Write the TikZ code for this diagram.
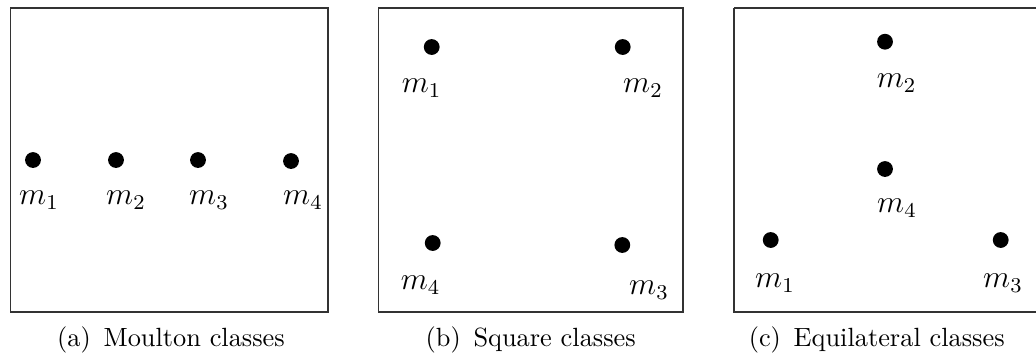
\documentclass[tikz,border=0pt]{standalone}
\usepackage{amsmath}
\usepackage{tikz}
\usetikzlibrary{positioning}

\begin{document}
\begin{tikzpicture}[
    x=0.01333cm, y=-0.01333cm,
    every node/.style={font=\normalsize},
    frame/.style={draw=black!80,line width=0.5pt},
    mass/.style={circle,fill=black,inner sep=0pt,minimum size=6pt},
    mlabel/.style={font=\large},
    subcap/.style={anchor=center}
]
% page size, in pixel units of the reference
\useasboundingbox (0,0) rectangle (1036,360);
\clip (0,0) rectangle (1036,360);

% (a) Moulton classes: four masses on a line
\draw[frame] (10.7,8) rectangle (328,312);
\node[mass] (a1) at (33,160) {};
\node[mass] (a2) at (116,160) {};
\node[mass] (a3) at (198,160) {};
\node[mass] (a4) at (291,161) {};
\node[mlabel] (la1) at (39,200) {$m_1$};
\node[mlabel] (la2) at (126,200) {$m_2$};
\node[mlabel] (la3) at (209,200) {$m_3$};
\node[mlabel] (la4) at (303,200) {$m_4$};
\node[subcap] (capa) at (171,340) {(a)\hspace{1.5pt} Moulton classes};

% (b) Square classes: masses at the corners
\draw[frame] (378.7,8) rectangle (683,312);
\node[mass] (b1) at (431.7,47) {};
\node[mass] (b2) at (622.7,47) {};
\node[mass] (b3) at (622.3,245) {};
\node[mass] (b4) at (432.7,243) {};
\node[mlabel] (lb1) at (421.7,88) {$m_1$};
\node[mlabel] (lb2) at (643,88) {$m_2$};
\node[mlabel] (lb3) at (649,290) {$m_3$};
\node[mlabel] (lb4) at (420.7,285) {$m_4$};
\node[subcap] (capb) at (530.7,340) {(b)\hspace{1.5pt} Square classes};

% (c) Equilateral classes: triangle plus centre mass, frame runs off the page
\draw[frame] (734,8) -- (1060,8) (734,8) -- (734,312) -- (1060,312);
\node[mass] (c1) at (770.7,240) {};
\node[mass] (c2) at (885,41.7) {};
\node[mass] (c3) at (1000.7,240) {};
\node[mass] (c4) at (885,169) {};
\node[mlabel] (lc1) at (775,283) {$m_1$};
\node[mlabel] (lc2) at (896.7,83) {$m_2$};
\node[mlabel] (lc3) at (1003,283) {$m_3$};
\node[mlabel] (lc4) at (897,208) {$m_4$};
\node[subcap] (capc) at (876.7,340) {(c)\hspace{1.5pt} Equilateral classes};
\end{tikzpicture}
\end{document}
